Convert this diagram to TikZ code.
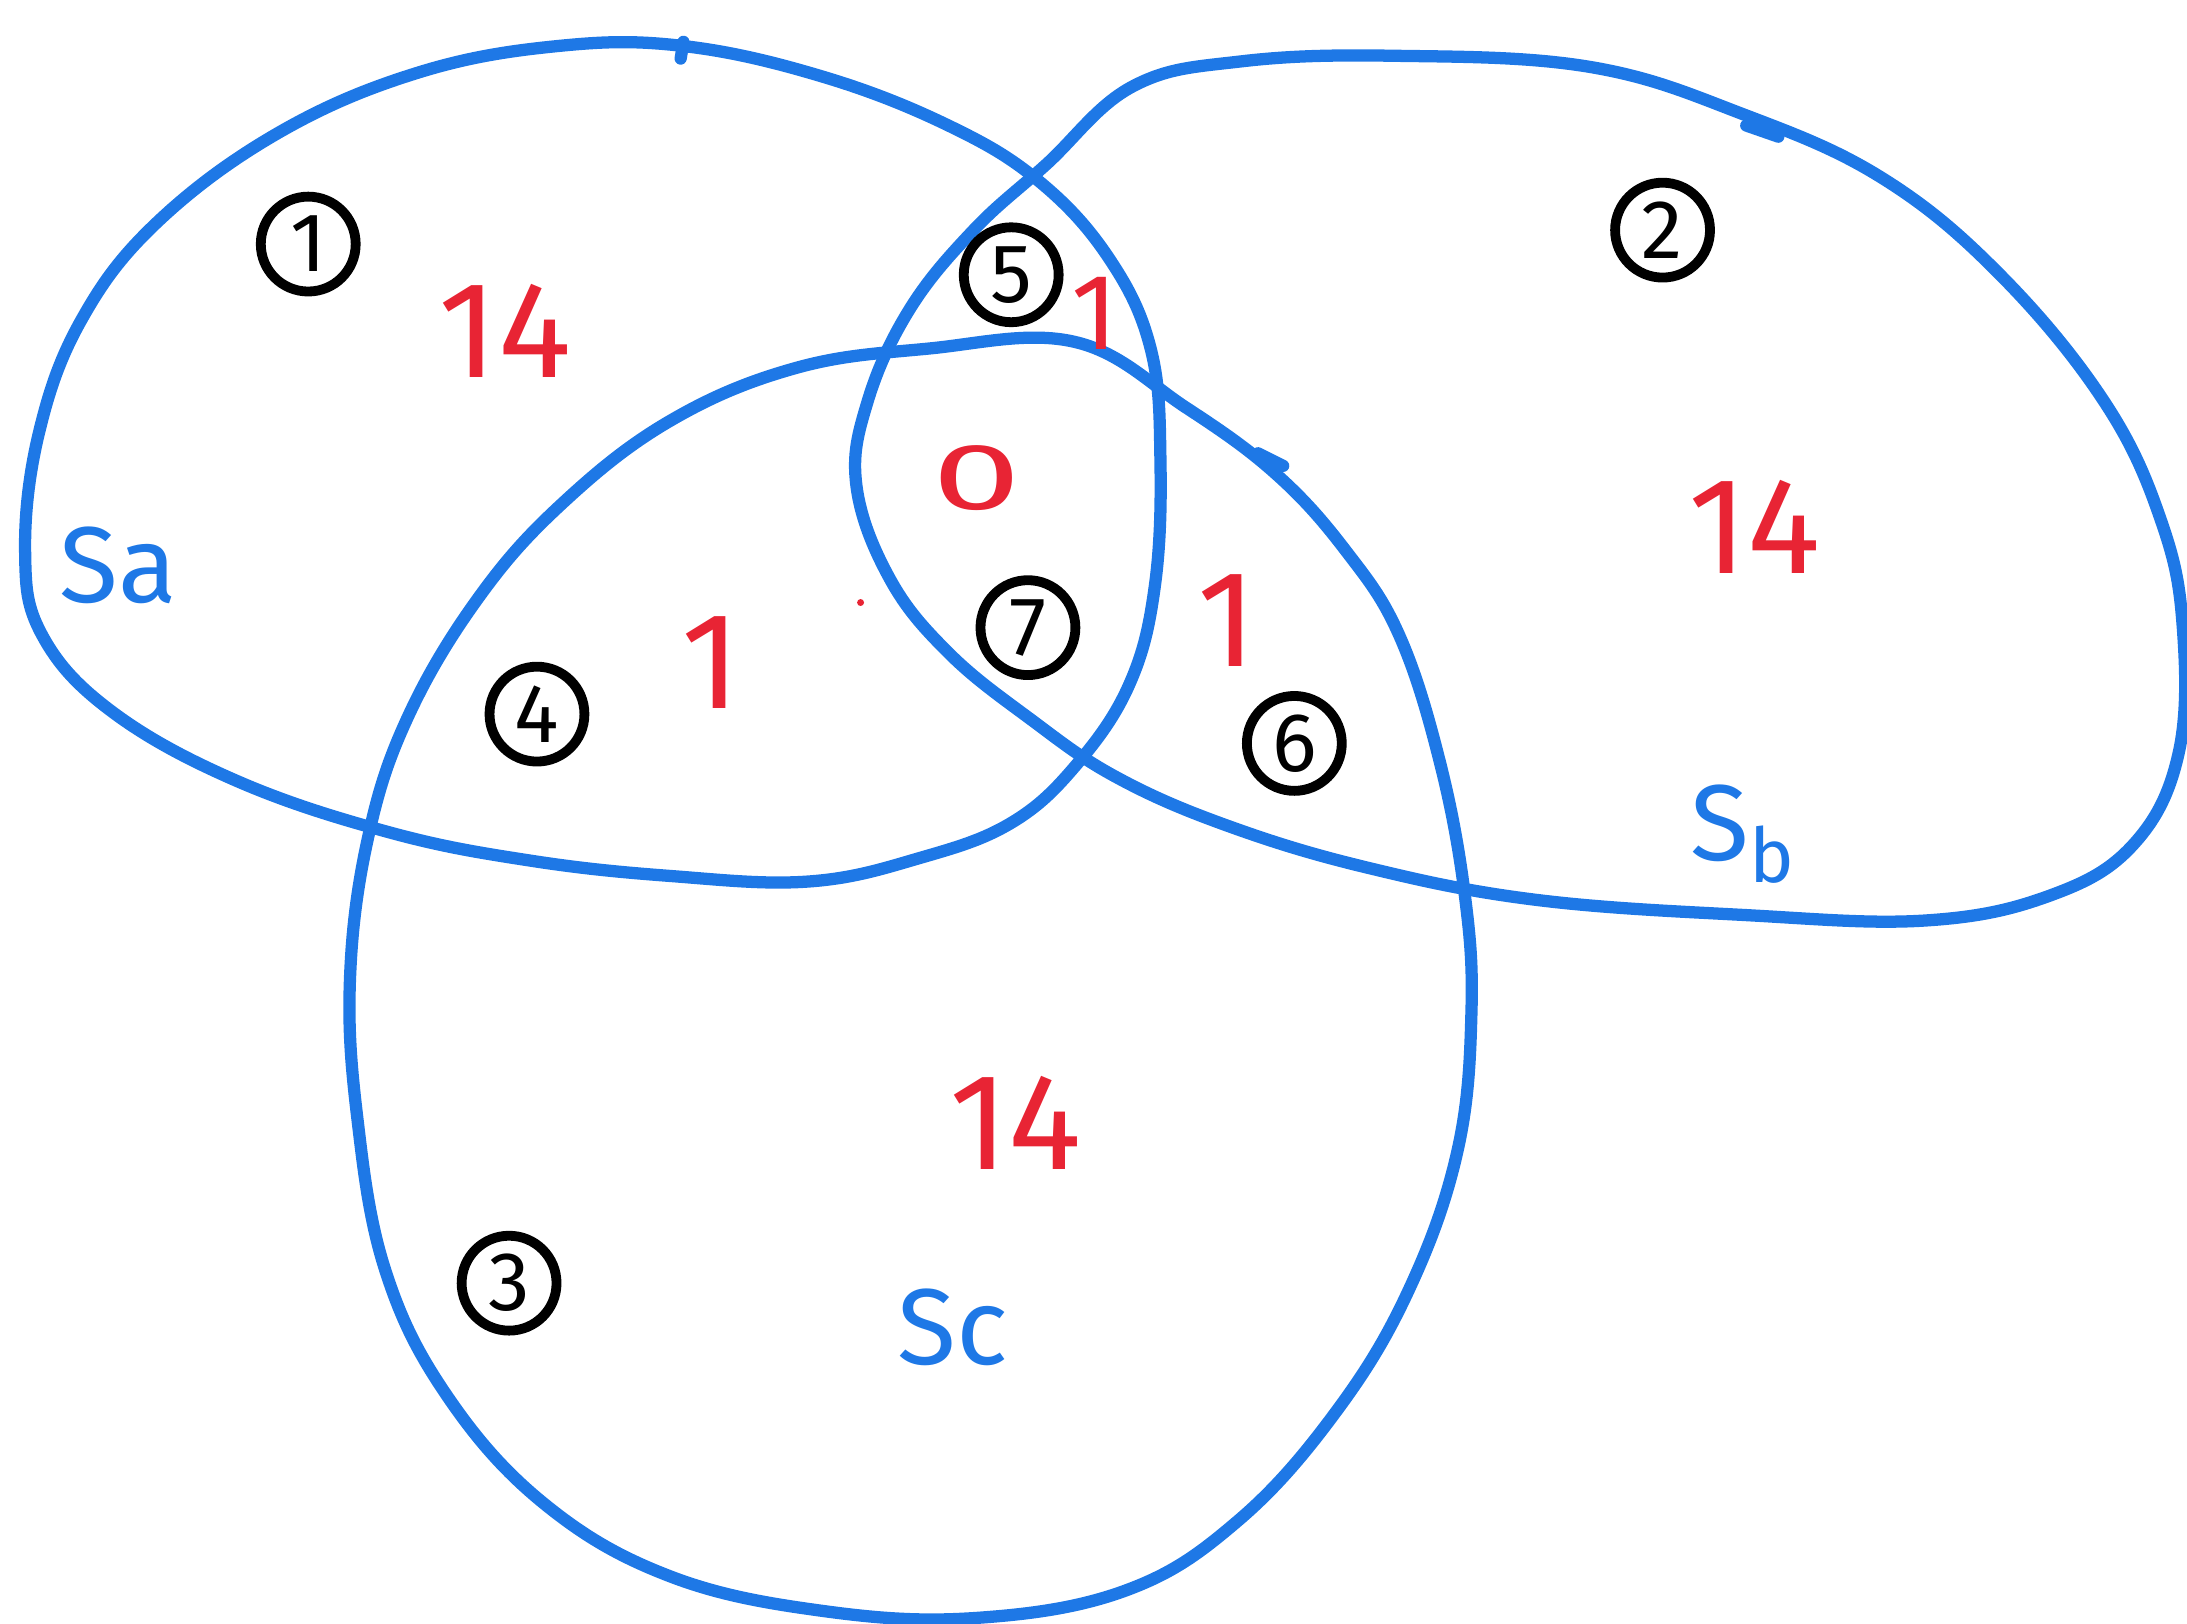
\documentclass[tikz,border=0pt]{standalone}
\usepackage{fontspec}
\setmainfont{Fira Sans}
\usetikzlibrary{positioning}
\definecolor{setblue}{RGB}{30,120,230}
\definecolor{cntred}{RGB}{232,36,52}

\begin{document}
\begin{tikzpicture}[
  x=0.01cm, y=-0.01cm,
  setline/.style={draw=setblue, line width=2.5pt, line cap=round, line join=round},
  elem/.style={draw=black, line width=2pt, circle, minimum size=0.68cm, inner sep=0pt, font=\fontsize{17}{17}\selectfont},
  cnt/.style={text=cntred, font=\fontsize{28}{28}\selectfont},
  setlab/.style={text=setblue, font=\fontsize{22}{22}\selectfont}
]
\useasboundingbox (0,0) rectangle (1568,1164);

% the three sets
\draw[setline] plot[smooth cycle, tension=0.65] coordinates {
  (490,33) (590,55) (680,90) (745,130) (795,185) (825,250) (832,330)
  (828,420) (810,490) (772,548) (725,590) (660,615) (580,632) (480,628)
  (380,617) (280,597) (170,560) (80,510) (30,455) (18,395) (28,310)
  (58,230) (112,160) (200,95) (300,52) (400,33)};
\draw[setline] plot[smooth cycle, tension=0.65] coordinates {
  (750,118) (812,62) (890,44) (1000,40) (1140,48) (1250,82) (1350,128)
  (1435,198) (1510,290) (1550,375) (1565,450) (1562,540) (1530,605)
  (1470,642) (1380,660) (1250,656) (1100,645) (980,622) (880,592)
  (800,557) (738,515) (680,468) (638,415) (614,348) (622,288) (652,222)
  (698,165)};
\draw[setline] plot[smooth cycle, tension=0.65] coordinates {
  (770,245) (850,292) (915,340) (965,395) (1003,455) (1032,545)
  (1050,640) (1055,725) (1045,825) (1010,925) (958,1012) (888,1090)
  (808,1140) (700,1160) (590,1155) (480,1130) (390,1078) (320,1000)
  (276,910) (256,800) (251,700) (264,600) (292,515) (342,430) (402,362)
  (480,302) (570,264) (665,250)};
% pen ticks
\draw[setline] (490,30) -- (488,42);
\draw[setline] (1252,90) -- (1275,98);
\draw[setline] (902,325) -- (920,334);

% elements
\foreach \name/\x/\y/\txt in {e1/221/175/1, e5/725/197/5, e2/1192/165/2,
  e7/737/450/7, e4/385/512/4, e6/928/533/6, e3/365/920/3}{
  \node[elem] (\name) at (\x,\y) {\txt};
}

% region counts
\node[cnt] (nA) at (362,237) {14};
\node[cnt] (nB) at (1258,378) {14};
\node[cnt] (nC) at (728,805) {14};
\node[cnt, font=\fontsize{22}{22}\selectfont] (nAB) at (785,225) {1};
\node[cnt] (nAC) at (510,475) {1};
\node[cnt] (nBC) at (880,445) {1};
\node[cnt, font=\fontsize{24}{24}\selectfont, xscale=1.35, yscale=0.8] (nABC) at (700,343) {0};
\fill[cntred] (617,432) circle (2.5);

% set names
\node[setlab] (sa) at (85,405) {Sa};
\node[setlab] (sb) at (1250,598) {S\textsubscript{b}};
\node[setlab] (sc) at (683,952) {Sc};
\end{tikzpicture}
\end{document}
